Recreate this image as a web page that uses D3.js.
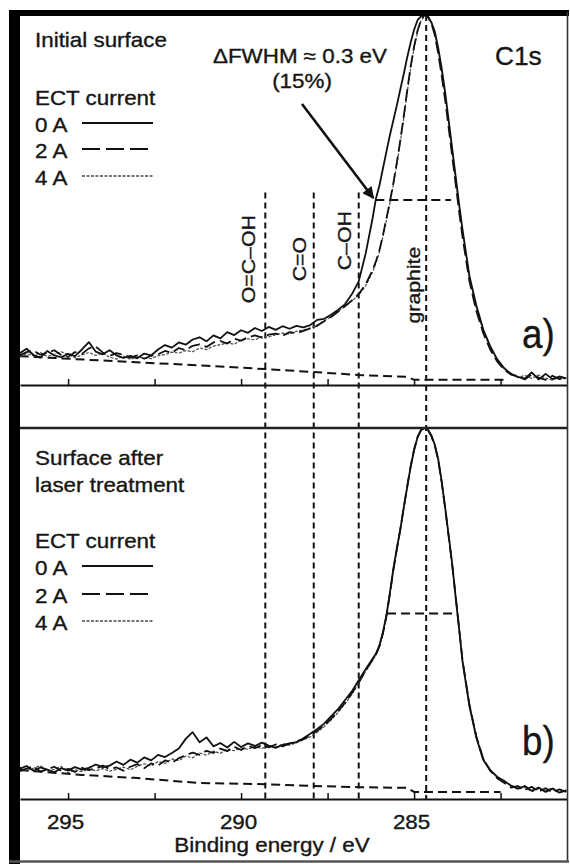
<!DOCTYPE html>
<html>
<head>
<meta charset="utf-8">
<script src="https://cdn.jsdelivr.net/npm/d3@7"></script>
<style>
  html, body { margin: 0; padding: 0; background: #fff; }
  svg { display: block; }
  text { font-family: "Liberation Sans", Arial, Helvetica, sans-serif; fill: #161616;
         stroke: #161616; stroke-width: 0.35px; }
</style>
</head>
<body>
<svg id="chart" width="570" height="864"></svg>
<script>
// ---- data -------------------------------------------------------------
// Binding energy grid (eV), shared by all spectra
const bindingEnergy = [
  296.4, 296.2, 296.0, 295.8, 295.6, 295.4, 295.2, 295.0, 294.8, 294.6,
  294.4, 294.2, 294.0, 293.8, 293.6, 293.4, 293.2, 293.0, 292.8, 292.6,
  292.4, 292.2, 292.0, 291.8, 291.6, 291.4, 291.2, 291.0, 290.8, 290.6,
  290.4, 290.2, 290.0, 289.8, 289.6, 289.4, 289.2, 289.0, 288.8, 288.6,
  288.4, 288.2, 288.0, 287.8, 287.6, 287.4, 287.2, 287.0, 286.8, 286.6,
  286.4, 286.2,
  286.1, 286.0, 285.9, 285.8, 285.7, 285.6, 285.5, 285.4, 285.3, 285.2,
  285.1, 285.0, 284.9, 284.8, 284.7, 284.6, 284.5, 284.4, 284.3, 284.2,
  284.1, 284.0, 283.9, 283.8, 283.7,
  283.6, 283.4, 283.2, 283.0, 282.8, 282.6, 282.4, 282.2, 282.0, 281.8,
  281.6, 281.4, 281.2, 281.0, 280.8, 280.6
];

// (a) initial surface, normalised C1s intensity
const initial0A = [
  8.6, 9.8, 8.1, 7.4, 9.2, 8.0, 7.5, 8.4, 7.8, 9.6,
  11.6, 9.0, 8.3, 9.4, 8.0, 7.3, 7.9, 7.2, 8.5, 8.0,
  9.6, 10.8, 10.1, 11.5, 10.9, 12.3, 12.9, 11.8, 13.4, 12.6,
  14.3, 13.5, 14.8, 14.1, 15.4, 14.6, 15.7, 14.9, 15.9, 15.2,
  16.0, 15.6, 16.2, 17.6, 17.9, 19.0, 20.3, 21.8, 24.5, 28.0,
  35.5, 45.0,
  50.5, 54.0, 58.5, 63.0, 67.5, 71.5, 75.5, 79.8, 84.0, 88.5,
  92.5, 96.0, 98.6, 99.6, 100, 99.4, 98.0, 95.5, 91.0, 85.5,
  79.0, 71.5, 64.0, 56.5, 49.0,
  42.0, 29.5, 21.5, 15.0, 10.5, 7.0, 4.6, 3.0, 2.2, 1.7,
  3.4, 1.5, 3.0, 1.6, 2.3, 1.8
];
const initial2A = [
  8.0, 8.9, 9.3, 8.2, 8.7, 9.4, 8.1, 7.6, 8.9, 8.4,
  9.9, 10.4, 8.8, 7.9, 8.6, 8.2, 7.4, 8.0, 7.1, 7.9,
  8.3, 9.2, 8.7, 10.0, 9.4, 10.6, 11.0, 10.3, 11.5, 11.9,
  11.2, 12.5, 12.0, 12.9, 13.4, 12.8, 13.6, 13.9, 13.3, 14.3,
  14.0, 14.6, 15.3, 16.0, 17.2, 18.4, 19.8, 21.3, 22.8, 24.6,
  27.2, 31.0,
  33.5, 36.5, 40.5, 45.0, 49.5, 54.5, 60.0, 66.0, 72.5, 79.5,
  86.0, 91.5, 95.8, 98.6, 100, 99.6, 97.8, 94.5, 89.5, 83.5,
  77.0, 69.5, 62.0, 54.5, 47.0,
  40.0, 28.0, 20.0, 14.0, 9.6, 6.4, 4.2, 2.8, 2.4, 1.5,
  2.9, 2.0, 1.4, 2.5, 1.6, 2.1
];
const initial4A = [
  7.6, 8.5, 7.9, 8.8, 7.7, 8.3, 9.0, 8.2, 7.4, 8.1,
  8.8, 8.0, 8.6, 7.5, 7.0, 7.8, 6.9, 7.6, 7.3, 7.1,
  7.9, 8.2, 8.9, 8.6, 9.3, 9.0, 10.0, 9.6, 10.5, 10.9,
  11.4, 11.0, 12.1, 12.5, 12.2, 13.1, 13.0, 13.6, 14.0, 13.8,
  14.5, 14.9, 15.4, 16.2, 17.3, 18.5, 19.9, 21.2, 22.7, 24.3,
  26.8, 30.5,
  33.0, 36.0, 40.0, 44.5, 49.0, 54.0, 59.5, 65.5, 72.0, 79.0,
  85.5, 91.0, 95.5, 98.4, 99.8, 99.8, 98.2, 95.0, 90.5, 84.5,
  78.0, 71.0, 63.5, 56.0, 48.5,
  41.5, 29.0, 20.8, 14.6, 10.0, 6.8, 4.4, 3.2, 2.0, 2.6,
  1.8, 2.7, 1.9, 1.3, 2.2, 1.5
];

// (b) surface after laser treatment
const laser0A = [
  8.1, 8.9, 7.6, 8.5, 7.9, 7.2, 8.3, 7.7, 8.6, 7.9,
  8.4, 9.3, 8.6, 9.0, 10.1, 9.2, 10.6, 9.8, 11.2, 10.4,
  11.9, 11.3, 12.4, 13.6, 16.2, 18.0, 15.3, 16.6, 14.2, 15.1,
  13.9, 15.4, 14.0, 15.0, 14.3, 15.2, 14.4, 13.8, 14.6, 15.0,
  15.3, 16.4, 17.6, 18.9, 20.3, 22.3, 24.2, 26.6, 29.0, 32.0,
  35.0, 37.8,
  39.2, 41.5, 45.0, 49.5, 55.5, 62.0, 67.5, 72.5, 78.5, 84.0,
  89.5, 94.0, 97.5, 99.4, 100, 99.6, 98.0, 95.5, 91.5, 85.5,
  78.5, 71.0, 63.5, 54.5, 46.0,
  37.0, 25.0, 16.5, 10.5, 7.8, 6.0, 4.9, 3.6, 2.8, 3.5,
  2.2, 3.1, 1.9, 2.8, 1.7, 2.3
];
const laser2A = [
  7.5, 8.2, 8.8, 7.4, 8.0, 8.7, 7.6, 8.1, 7.3, 8.4,
  7.8, 8.2, 9.0, 8.1, 8.5, 7.6, 8.7, 9.4, 8.3, 9.6,
  9.0, 10.4, 9.8, 11.0, 11.8, 12.5, 11.9, 13.0, 12.4, 13.6,
  12.9, 14.1, 13.2, 14.3, 13.7, 14.5, 13.9, 14.7, 14.2, 14.9,
  15.6, 16.1, 17.2, 18.4, 19.8, 21.6, 23.6, 25.9, 28.5, 31.4,
  34.6, 37.5,
  39.0, 41.2, 44.6, 49.2, 55.2, 61.6, 67.2, 72.6, 78.4, 84.2,
  89.6, 94.2, 97.6, 99.5, 100, 99.4, 97.8, 95.2, 91.2, 85.2,
  78.2, 70.8, 63.2, 54.8, 46.2,
  37.4, 25.4, 16.8, 10.8, 7.6, 5.6, 4.4, 3.1, 3.5, 2.4,
  3.3, 2.0, 2.9, 1.8, 2.6, 1.9
];
const laser4A = [
  8.6, 7.7, 8.3, 9.0, 7.5, 8.0, 8.8, 7.1, 7.9, 7.4,
  8.1, 7.6, 8.2, 7.5, 8.0, 8.6, 7.9, 8.8, 9.5, 8.9,
  10.1, 9.6, 10.8, 10.3, 11.6, 11.1, 12.4, 11.8, 12.9, 12.3,
  13.5, 13.0, 13.8, 13.4, 14.2, 13.6, 14.4, 14.0, 14.8, 14.5,
  15.2, 15.9, 16.8, 18.0, 19.5, 21.3, 23.3, 25.6, 28.2, 31.2,
  34.4, 37.3,
  38.8, 41.0, 44.4, 49.0, 55.0, 61.4, 67.0, 72.4, 78.2, 84.0,
  89.4, 94.0, 97.4, 99.4, 99.9, 99.5, 97.9, 95.3, 91.3, 85.3,
  78.4, 71.0, 63.4, 55.0, 46.4,
  37.6, 25.6, 17.0, 11.0, 7.9, 5.8, 4.6, 3.8, 2.6, 3.1,
  2.0, 2.7, 2.2, 3.0, 1.8, 2.4
];

// Shirley-type backgrounds: [binding energy, intensity]
const backgroundA = [[296.4, 7.8], [294.0, 6.6], [291.0, 5.2], [289.3, 4.3], [287.9, 3.5],
                     [286.6, 2.7], [285.2, 2.2], [285.0, 1.4], [282.4, 1.4]];
const backgroundB = [[296.4, 7.8], [294.6, 6.5], [293.1, 5.7], [291.2, 4.3], [289.3, 4.0],
                     [287.9, 3.5], [286.6, 3.2], [285.2, 3.0], [285.0, 1.9], [282.5, 1.9]];

// full width at half maximum markers: [low-side BE, high-side BE] at 50 %
const fwhmA = [286.12, 283.93];
const fwhmB = [285.78, 283.78];
const halfMax = 50;

// chemical state reference energies
const componentEnergy = [289.3, 287.9, 286.6, 284.65];
const componentLabel  = ["O=C\u2013OH", "C=O", "C\u2013OH", "graphite"];

const currentLabels = ["0 A", "2 A", "4 A"];
const tickValues = [295, 292.5, 290, 287.5, 285, 282.5];
const tickLabels = ["295", "290", "285"];

// ---- layout -----------------------------------------------------------
const svg = d3.select("#chart");
const W = 570, H = 864;
const plotLeft = 20, plotRight = 567;
const panelA = { top: 15, bottom: 385 };
const panelB = { top: 428, bottom: 799 };
const FONT = 20, STRETCH = 1.12;

const x = d3.scaleLinear().domain([296.39, 280.58]).range([plotLeft, plotRight]);
const yA = d3.scaleLinear().domain([0, 100]).range([panelA.bottom, panelA.top]);
const yB = d3.scaleLinear().domain([0, 100]).range([panelB.bottom, panelB.top]);

const seriesStyle = [
  { stroke: "#111", width: 1.8, dash: null },
  { stroke: "#111", width: 1.8, dash: "12,5" },
  { stroke: "#4a4a4a", width: 1.2, dash: "3,1.5" }
];

function txt(g, px, py, s, opts = {}) {
  const size = opts.size || FONT;
  const sx = opts.stretch || STRETCH;
  const rot = opts.rotate ? ` rotate(${opts.rotate})` : "";
  return g.append("text")
    .attr("transform", `translate(${px},${py})${rot} scale(${sx},1)`)
    .attr("font-size", size)
    .attr("text-anchor", opts.anchor || "start")
    .text(s);
}

const g = svg.append("g");

// ---- reference lines for chemical states (through both panels) --------
const refTopValue = 52;
g.append("g").selectAll("line")
  .data(componentEnergy)
  .join("line")
  .attr("x1", d => x(d)).attr("x2", d => x(d))
  .attr("y1", (d, i) => i === componentEnergy.length - 1 ? yA(100) : yA(refTopValue))
  .attr("y2", yB(0))
  .attr("stroke", "#111").attr("stroke-width", 2)
  .attr("stroke-dasharray", "6,4");

const labelCenter = [34, 34, 39, 27];   // label centre heights in panel (a) units
const labelGap = [10, 8, 8, 6];
componentLabel.forEach((s, i) => {
  txt(g, x(componentEnergy[i]) - labelGap[i], yA(labelCenter[i]), s,
      { rotate: -90, anchor: "middle", size: 19 });
});

// ---- spectra ----------------------------------------------------------
function drawPanel(y, spectra, background, fwhm) {
  const pg = g.append("g");
  const line = d3.line().x(d => x(d[0])).y(d => y(d[1]));

  pg.append("path")
    .datum(background)
    .attr("d", line)
    .attr("fill", "none").attr("stroke", "#111")
    .attr("stroke-width", 2).attr("stroke-dasharray", "9,5");

  pg.append("line")
    .attr("x1", x(fwhm[0])).attr("x2", x(fwhm[1]))
    .attr("y1", y(halfMax)).attr("y2", y(halfMax))
    .attr("stroke", "#111").attr("stroke-width", 2)
    .attr("stroke-dasharray", "9,5");

  // draw the 4 A trace first so the 0 A trace stays on top
  [2, 1, 0].forEach(k => {
    pg.append("path")
      .datum(d3.zip(bindingEnergy, spectra[k]))
      .attr("d", line)
      .attr("fill", "none")
      .attr("stroke", seriesStyle[k].stroke)
      .attr("stroke-width", seriesStyle[k].width)
      .attr("stroke-dasharray", seriesStyle[k].dash)
      .attr("stroke-linejoin", "round");
  });
}
drawPanel(yA, [initial0A, initial2A, initial4A], backgroundA, fwhmA);
drawPanel(yB, [laser0A, laser2A, laser4A], backgroundB, fwhmB);

// ---- axes -------------------------------------------------------------
function drawAxis(yPos, showLabels) {
  const axis = d3.axisBottom(x)
    .tickValues(tickValues)
    .tickSizeInner(-6)
    .tickSizeOuter(0)
    .tickFormat(d => (showLabels && tickLabels.includes(String(d))) ? String(d) : "");
  const ag = g.append("g").attr("transform", `translate(0,${yPos})`).call(axis);
  ag.select(".domain").attr("stroke", "#111").attr("stroke-width", 2);
  ag.selectAll(".tick line").attr("stroke", "#111").attr("stroke-width", 1.5);
  ag.selectAll(".tick text")
    .attr("y", null).attr("dy", null)
    .attr("transform", `translate(-3,30) scale(${STRETCH},1)`)
    .attr("font-size", FONT)
    .attr("font-family", "Liberation Sans, Arial, sans-serif")
    .attr("fill", "#161616");
}
drawAxis(panelA.bottom, false);
drawAxis(panelB.bottom, true);

// panel (b) top edge
g.append("line")
  .attr("x1", plotLeft).attr("x2", plotRight)
  .attr("y1", panelB.top).attr("y2", panelB.top)
  .attr("stroke", "#222").attr("stroke-width", 2.6);

txt(g, 272, 852, "Binding energy / eV", { anchor: "middle" });

// ---- legends and annotations ------------------------------------------
function legend(titleLines, titleY, rowsY) {
  titleLines.forEach((s, i) => txt(g, 35, titleY[i], s));
  currentLabels.forEach((s, k) => {
    txt(g, 35, rowsY[k], s);
    g.append("line")
      .attr("x1", 82).attr("x2", 153)
      .attr("y1", rowsY[k] - 9).attr("y2", rowsY[k] - 9)
      .attr("stroke", seriesStyle[k].stroke)
      .attr("stroke-width", seriesStyle[k].width + 0.2)
      .attr("stroke-dasharray", k === 1 ? "18,6" : seriesStyle[k].dash);
  });
}
legend(["Initial surface", "ECT current"], [47, 105], [132, 158, 185]);
legend(["Surface after", "laser treatment", "ECT current"], [465, 492, 548], [575, 603, 630]);

txt(g, 213, 63, "\u0394FWHM \u2248 0.3 eV");
txt(g, 302, 88, "(15%)", { anchor: "middle" });
txt(g, 495, 65, "C1s", { size: 25, stretch: 1.05 });
txt(g, 522, 348, "a)", { size: 40, stretch: 0.92 });
txt(g, 522, 755, "b)", { size: 40, stretch: 0.92 });

// arrow from the ΔFWHM note to the broadened half-maximum point
svg.append("defs").append("marker")
  .attr("id", "head").attr("viewBox", "0 0 10 10")
  .attr("refX", 9).attr("refY", 5)
  .attr("markerWidth", 5).attr("markerHeight", 4.5)
  .attr("orient", "auto")
  .append("path").attr("d", "M0,0 L10,5 L0,10 Z").attr("fill", "#111");
g.append("line")
  .attr("x1", 302).attr("y1", 104)
  .attr("x2", x(fwhmA[0]) - 2).attr("y2", yA(halfMax) - 2)
  .attr("stroke", "#111").attr("stroke-width", 2.6)
  .attr("marker-end", "url(#head)");

// ---- outer frame ------------------------------------------------------
g.append("rect").attr("x", 9).attr("y", 10).attr("width", 11).attr("height", H - 10).attr("fill", "#000");
g.append("rect").attr("x", 9).attr("y", 10).attr("width", 560).attr("height", 6).attr("fill", "#000");
g.append("line").attr("x1", 567.5).attr("x2", 567.5).attr("y1", 12).attr("y2", 862)
  .attr("stroke", "#333").attr("stroke-width", 1.6);
g.append("line").attr("x1", 9).attr("x2", 569).attr("y1", 861.5).attr("y2", 861.5)
  .attr("stroke", "#555").attr("stroke-width", 2.4);
</script>
</body>
</html>
